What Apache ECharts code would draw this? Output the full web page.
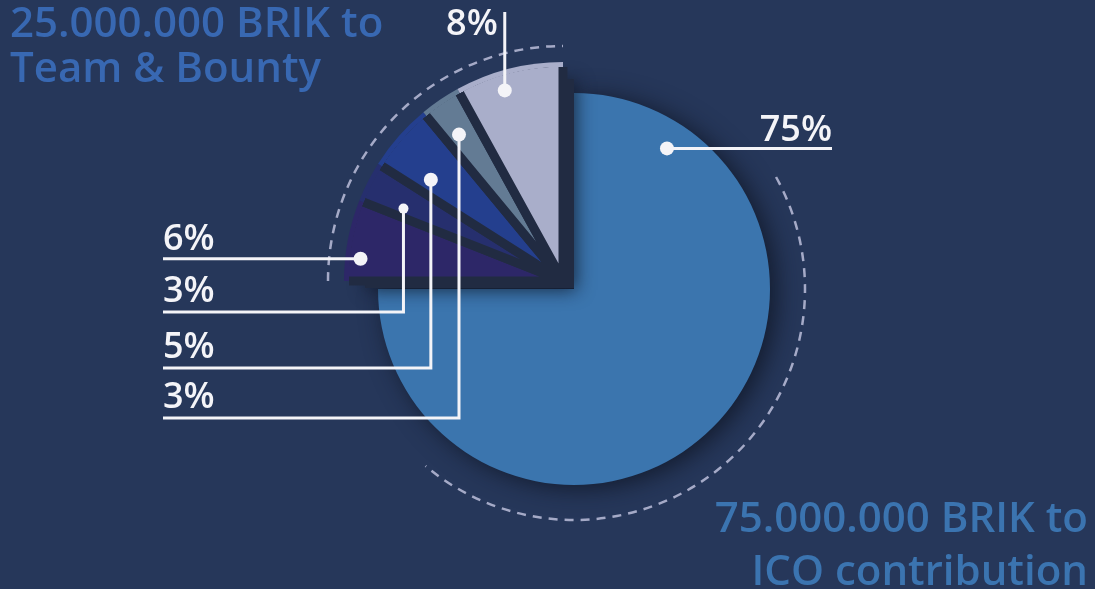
<!DOCTYPE html>
<html lang="en">
<head>
<meta charset="UTF-8">
<title>BRIK distribution</title>
<style>
  html, body { margin: 0; padding: 0; width: 100%; height: 100%; background: #26375a; }
  #chart { width: 1095px; height: 589px; }
</style>
</head>
<body>
<div id="chart"></div>
<script src="https://cdn.jsdelivr.net/npm/echarts@6/dist/echarts.min.js"></script>
<script>
// data
const groupNames = ['ICO contribution', 'Team & Bounty'];
const groupShares = [75, 25];
const teamShares = [6, 3, 5, 3, 8];   // from 9 o'clock going up to 12 o'clock
const titleTop = '25.000.000 BRIK to\nTeam & Bounty';
const titleBottom = ['75.000.000 BRIK to', 'ICO contribution'];

// layout
const bigCenter = [574, 289], bigR = 196;
const teamCenter = [563, 281], teamR = 219;
const gapW = 9;
const teamColors = ['#2d2768', '#262f6e', '#243f8e', '#637b94', '#a9aeca'];
const icoColor = '#3b75ae';
const gapColor = '#212b42';
const lineColor = '#f4f4f8';
const FONT = '"Open Sans", "Noto Sans", sans-serif';
const labelSize = 36;
const titleSize = 42;

// dot placement inside each slice: t = share of slice sweep, r = share of radius
const teamAnchors = [
  { t: 0.29, r: 0.93, dot: 7, lineY: null },
  { t: 0.26, r: 0.80, dot: 5, lineY: 312 },
  { t: 0.28, r: 0.76, dot: 7, lineY: 368 },
  { t: 0.39, r: 0.82, dot: 7, lineY: 418 },
  { t: 0.41, r: 0.91, dot: 7, lineY: 12 }
];
const icoAnchor = { t: 0.124, r: 0.86, lineX: 832 };
const labelLeft = 163;

function polar(c, r, deg) {
  const a = deg * Math.PI / 180;
  return [c[0] + r * Math.cos(a), c[1] - r * Math.sin(a)];
}

const elements = [];
function dot(p, r) {
  elements.push({ type: 'circle', z: 100, shape: { cx: p[0], cy: p[1], r: r }, style: { fill: lineColor } });
}
function line(points) {
  elements.push({ type: 'polyline', z: 100, shape: { points: points }, style: { stroke: lineColor, lineWidth: 3, fill: null } });
}
function text(str, x, baseline, align, size, color) {
  elements.push({
    type: 'text', z: 100, x: x, y: baseline - 0.31 * size,
    style: { text: str, fill: color, font: '600 ' + size + 'px ' + FONT,
      align: align, verticalAlign: 'middle', textAlign: align, textVerticalAlign: 'middle' }
  });
}

// team slices: leader lines
let start = 180;
teamShares.forEach((v, i) => {
  const a = teamAnchors[i];
  const sweep = v / 100 * 360;
  const p = polar(teamCenter, teamR * a.r, start - a.t * sweep);
  start -= sweep;
  const txt = v + '%';
  if (i === 0) {
    line([p, [labelLeft, p[1]]]);
    text(txt, labelLeft, p[1] - 8, 'left', labelSize, lineColor);
  } else if (i === teamShares.length - 1) {
    line([p, [p[0], a.lineY]]);
    text(txt, p[0] - 7, a.lineY + 24, 'right', labelSize, lineColor);
  } else {
    line([p, [p[0], a.lineY], [labelLeft, a.lineY]]);
    text(txt, labelLeft, a.lineY - 9, 'left', labelSize, lineColor);
  }
  dot(p, a.dot);
});

// ico slice leader line
const icoDot = polar(bigCenter, bigR * icoAnchor.r, 90 - icoAnchor.t * groupShares[0] / 100 * 360);
line([icoDot, [icoAnchor.lineX, icoDot[1]]]);
text(groupShares[0] + '%', icoAnchor.lineX, icoDot[1] - 6, 'right', labelSize, lineColor);
dot(icoDot, 7);

// bottom right caption
text(titleBottom[0], 1088, 533, 'right', titleSize, '#3b74b0');
text(titleBottom[1], 1088, 586, 'right', titleSize, '#3b74b0');

// dashed guide arcs
const arcStyle = { stroke: '#a5aac7', lineWidth: 2.5, lineDash: [9, 7], fill: null };
elements.push({ type: 'arc', z: 50, shape: { cx: teamCenter[0], cy: teamCenter[1], r: 235,
  startAngle: Math.PI, endAngle: Math.PI * 1.5, clockwise: true }, style: arcStyle });
elements.push({ type: 'arc', z: 50, shape: { cx: bigCenter[0], cy: bigCenter[1], r: 231,
  startAngle: -29 * Math.PI / 180, endAngle: 130 * Math.PI / 180, clockwise: true }, style: arcStyle });

// gap border: dark between slices, fading out at the rim so the outer arc has no outline
const gR = teamR + 20;
const gapBorder = {
  type: 'radial', x: teamCenter[0], y: teamCenter[1], r: gR, global: true,
  colorStops: [
    { offset: 0, color: gapColor },
    { offset: (teamR - gapW / 2 - 0.5) / gR, color: gapColor },
    { offset: (teamR - gapW / 2) / gR, color: 'rgba(33,43,66,0)' },
    { offset: 1, color: 'rgba(33,43,66,0)' }
  ]
};

const hidden = { color: 'transparent', borderWidth: 0, shadowBlur: 0, shadowOffsetX: 0, shadowOffsetY: 0 };

const chart = echarts.init(document.getElementById('chart'));
chart.setOption({
  backgroundColor: '#26375a',
  animation: false,
  title: {
    text: titleTop, left: 10, top: 3, padding: 0,
    textStyle: { color: '#3868b2', fontSize: titleSize, fontWeight: 600, fontFamily: FONT, lineHeight: 45 }
  },
  graphic: { elements: elements },
  series: [
    {
      type: 'pie', name: 'BRIK', z: 1, silent: true,
      center: bigCenter, radius: bigR, startAngle: 90, clockwise: true,
      label: { show: false }, labelLine: { show: false },
      data: [
        { name: groupNames[0], value: groupShares[0],
          itemStyle: { color: icoColor, shadowBlur: 24, shadowColor: 'rgba(14,20,34,0.8)', shadowOffsetX: 6, shadowOffsetY: 3 } },
        { name: groupNames[1], value: groupShares[1], itemStyle: hidden }
      ]
    },
    {
      // dark backdrop cast behind the team slices
      type: 'pie', name: 'backdrop', z: 2, silent: true,
      center: [teamCenter[0] + 11, teamCenter[1] + 7], radius: teamR - 10, startAngle: 180, clockwise: true,
      label: { show: false }, labelLine: { show: false },
      data: [
        { name: groupNames[1], value: groupShares[1],
          itemStyle: { color: gapColor, shadowBlur: 18, shadowColor: 'rgba(12,17,30,0.75)', shadowOffsetX: 2, shadowOffsetY: 2 } },
        { name: groupNames[0], value: groupShares[0], itemStyle: hidden }
      ]
    },
    {
      type: 'pie', name: groupNames[1], z: 3, silent: true,
      center: teamCenter, radius: teamR, startAngle: 180, clockwise: true,
      label: { show: false }, labelLine: { show: false },
      itemStyle: { borderColor: gapBorder, borderWidth: gapW },
      data: teamShares.map((v, i) => ({ name: v + '%', value: v, itemStyle: { color: teamColors[i] } }))
        .concat([{ name: groupNames[0], value: groupShares[0], itemStyle: hidden }])
    }
  ]
});
</script>
</body>
</html>
